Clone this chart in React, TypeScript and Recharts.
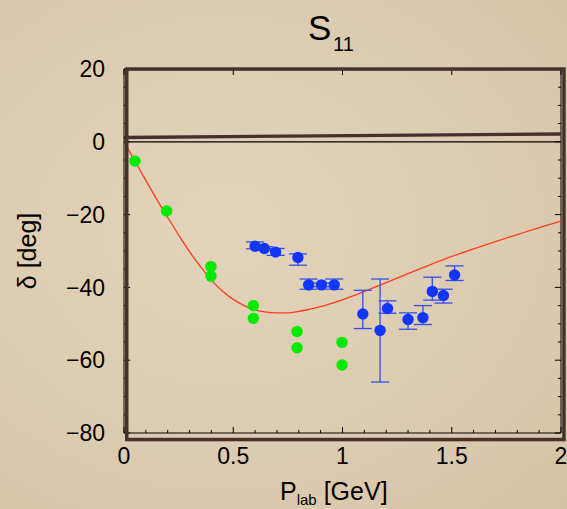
import {
  ComposedChart,
  Line,
  Scatter,
  ErrorBar,
  XAxis,
  YAxis,
  ReferenceLine,
} from "recharts";

// axis ticks
const xTicks = [0, 0.5, 1, 1.5, 2];
const xMinorTicks = [0.1, 0.2, 0.3, 0.4, 0.6, 0.7, 0.8, 0.9, 1.1, 1.2, 1.3, 1.4, 1.6, 1.7, 1.8, 1.9];
const yTicks = [-80, -60, -40, -20, 0, 20];
const yMinorTicks = [-75, -70, -65, -55, -50, -45, -35, -30, -25, -15, -10, -5, 5, 10, 15];

// model curve (red)
const curveX = [0, 0.05, 0.1, 0.15, 0.2, 0.25, 0.3, 0.35, 0.4, 0.45, 0.5, 0.55, 0.6, 0.65, 0.7, 0.75, 0.8, 0.85, 0.9, 0.95, 1.0, 1.1, 1.2, 1.3, 1.4, 1.5, 1.6, 1.7, 1.8, 1.9, 2.0];
const curveY = [0, -5.3, -10.6, -15.8, -20.8, -25.6, -30.2, -34.3, -38.0, -41.0, -43.3, -45.0, -46.2, -46.8, -47.0, -47.0, -46.6, -46.0, -45.3, -44.4, -43.4, -41.1, -38.7, -36.2, -33.8, -31.5, -29.4, -27.4, -25.5, -23.6, -21.8];

// second (flat) curve, thick brown
const flatX = [0, 2];
const flatY = [1.2, 2.15];

// green points
const greenX = [0.05, 0.195, 0.398, 0.398, 0.592, 0.592, 0.792, 0.792, 0.998, 0.998];
const greenY = [-5.3, -19.0, -34.3, -36.9, -45.0, -48.5, -52.1, -56.6, -55.1, -61.3];

// blue points with error bar ends
const blueX = [0.6, 0.642, 0.694, 0.796, 0.845, 0.904, 0.962, 1.093, 1.172, 1.206, 1.3, 1.368, 1.411, 1.462, 1.513];
const blueY = [-28.7, -29.3, -30.3, -31.8, -39.3, -39.3, -39.3, -47.3, -51.8, -45.8, -48.8, -48.3, -41.1, -42.2, -36.6];
const blueLow = [-29.4, -29.8, -31.2, -33.9, -40.5, -39.8, -40.5, -51.3, -66.0, -47.1, -51.5, -50.2, -43.5, -44.3, -38.1];
const blueHigh = [-27.5, -28.8, -29.3, -30.8, -37.7, -38.8, -37.7, -40.8, -37.7, -43.7, -47.0, -45.0, -37.2, -40.5, -34.1];

const curve = curveX.map((x, i) => ({ x, y: curveY[i] }));
const flat = flatX.map((x, i) => ({ x, y: flatY[i] }));
const green = greenX.map((x, i) => ({ x, y: greenY[i] }));
const blue = blueX.map((x, i) => ({
  x,
  y: blueY[i],
  err: [blueY[i] - blueLow[i], blueHigh[i] - blueY[i]],
}));

const FONT = "'Liberation Sans', Arial, Helvetica, sans-serif";
const BROWN = "#45302a";

// tick lengths in data units (major / minor)
const TX = 0.028;
const TXm = 0.014;
const TY = 1.65;
const TYm = 0.85;

const fmt = (v: number) => (v < 0 ? "\u2212" + Math.abs(v) : String(v));

const dot = (color: string) => (p: any) => <circle cx={p.cx} cy={p.cy} r={5.7} fill={color} />;

export default function App() {
  const tickSegs: any[] = [];
  xTicks.forEach((t) => {
    tickSegs.push([{ x: t, y: -80 }, { x: t, y: -80 + TY }]);
    tickSegs.push([{ x: t, y: 20 }, { x: t, y: 20 - TY }]);
  });
  xMinorTicks.forEach((t) => {
    tickSegs.push([{ x: t, y: -80 }, { x: t, y: -80 + TYm }]);
  });
  yTicks.forEach((t) => {
    tickSegs.push([{ x: 0, y: t }, { x: TX, y: t }]);
    tickSegs.push([{ x: 2, y: t }, { x: 2 - TX, y: t }]);
  });
  yMinorTicks.forEach((t) => {
    tickSegs.push([{ x: 0, y: t }, { x: TXm, y: t }]);
    tickSegs.push([{ x: 2, y: t }, { x: 2 - TXm, y: t }]);
  });

  return (
    <div
      style={{
        position: "absolute",
        left: 0,
        top: 0,
        width: 567,
        height: 509,
        background: "radial-gradient(ellipse at 40% 45%, #e2d3ba 0%, #dccbb0 60%, #d6c4a8 100%)",
        fontFamily: FONT,
      }}
    >
      <ComposedChart
        width={567}
        height={509}
        margin={{ top: 69, right: 6, bottom: 46, left: 64 }}
        style={{ position: "absolute", left: 0, top: 0 }}
      >
        <XAxis
          dataKey="x"
          type="number"
          domain={[0, 2]}
          ticks={xTicks}
          height={30}
          tickLine={false}
          tickSize={0}
          tickMargin={15}
          axisLine={{ stroke: "#000", strokeWidth: 1 }}
          tick={{ fill: "#000", fontSize: 23, fontFamily: FONT }}
          allowDataOverflow
        />
        <YAxis
          type="number"
          domain={[-80, 20]}
          ticks={yTicks}
          width={60}
          tickLine={false}
          tickSize={0}
          tickMargin={19}
          tickFormatter={fmt}
          axisLine={{ stroke: "#000", strokeWidth: 1 }}
          tick={{ fill: "#000", fontSize: 23, fontFamily: FONT }}
          allowDataOverflow
        />
        <ReferenceLine x={2} stroke="#000" strokeWidth={1} />
        <ReferenceLine y={20} stroke="#000" strokeWidth={1} />
        <ReferenceLine y={0} stroke="#000" strokeWidth={1.2} />
        {tickSegs.map((s, i) => (
          <ReferenceLine key={i} segment={s} stroke="#000" strokeWidth={1} />
        ))}
        <Line
          data={flat}
          dataKey="y"
          type="linear"
          stroke={BROWN}
          strokeWidth={3.4}
          dot={false}
          isAnimationActive={false}
        />
        <Line
          data={curve}
          dataKey="y"
          type="monotone"
          stroke="#ff3c1e"
          strokeWidth={1.3}
          dot={false}
          isAnimationActive={false}
        />
        <Scatter data={green} dataKey="y" shape={dot("#00ea00")} isAnimationActive={false} />
        <Scatter data={blue} dataKey="y" shape={dot("#1336ff")} isAnimationActive={false}>
          <ErrorBar dataKey="err" direction="y" width={9} stroke="#2e4ff0" strokeWidth={1.3} />
        </Scatter>
      </ComposedChart>

      <svg
        width={567}
        height={509}
        style={{ position: "absolute", left: 0, top: 0, pointerEvents: "none" }}
      >
        <rect x={126.75} y={69.05} width={437.2} height={370.5} fill="none" stroke={BROWN} strokeWidth={3.5} />
        <text x={308} y={40} fontSize={35} fontFamily={FONT} fill="#000">
          S
        </text>
        <text x={333} y={51} fontSize={20} fontFamily={FONT} fill="#000">
          11
        </text>
        <text x={280} y={500} fontSize={25} fontFamily={FONT} fill="#000">
          P
          <tspan fontSize={15} dy={5}>lab</tspan>
          <tspan dy={-5}> [GeV]</tspan>
        </text>
        <text
          x={0}
          y={0}
          fontSize={25}
          fontFamily={FONT}
          fill="#000"
          textAnchor="middle"
          transform="translate(36 251) rotate(-90)"
        >
          δ [deg]
        </text>
      </svg>
    </div>
  );
}
